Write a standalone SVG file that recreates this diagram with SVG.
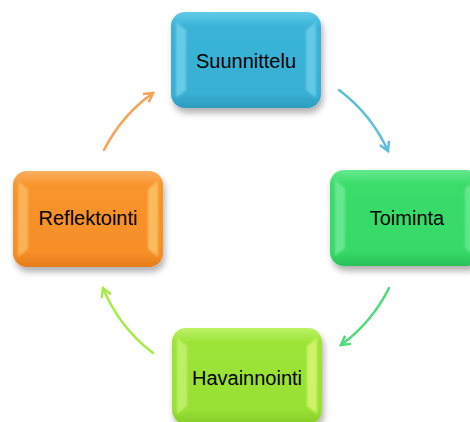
<svg xmlns="http://www.w3.org/2000/svg" width="470" height="422" viewBox="0 0 470 422">
<style>
.lbl{font-family:"Liberation Sans",Arial,sans-serif;font-size:20px;fill:#000;text-anchor:middle}
.arc{fill:none;stroke-width:2.5;stroke-linecap:round}
.bev{filter:url(#bl)}
</style>
<defs>
<filter id="sh" x="-20%" y="-20%" width="140%" height="150%">
<feDropShadow dx="2" dy="5" stdDeviation="3" flood-color="#000" flood-opacity="0.3"/>
</filter>
<filter id="bl" x="-50%" y="-20%" width="200%" height="140%"><feGaussianBlur stdDeviation="1.2"/></filter>
<linearGradient id="gB" x1="0" y1="0" x2="0" y2="1"><stop offset="0" stop-color="#62cbe8"/><stop offset="0.15" stop-color="#3ab3d6"/><stop offset="0.85" stop-color="#37b0d4"/><stop offset="1" stop-color="#2d9cbd"/></linearGradient>
<linearGradient id="gG" x1="0" y1="0" x2="0" y2="1"><stop offset="0" stop-color="#66ea8e"/><stop offset="0.15" stop-color="#3adc6b"/><stop offset="0.85" stop-color="#37d968"/><stop offset="1" stop-color="#2ac058"/></linearGradient>
<linearGradient id="gL" x1="0" y1="0" x2="0" y2="1"><stop offset="0" stop-color="#bcf266"/><stop offset="0.15" stop-color="#9ce438"/><stop offset="0.85" stop-color="#98e134"/><stop offset="1" stop-color="#85cc28"/></linearGradient>
<linearGradient id="gO" x1="0" y1="0" x2="0" y2="1"><stop offset="0" stop-color="#fcb060"/><stop offset="0.15" stop-color="#f7942c"/><stop offset="0.85" stop-color="#f68f28"/><stop offset="1" stop-color="#e57d1a"/></linearGradient>
<marker id="mB" viewBox="0 0 10 10" refX="8" refY="5" markerWidth="5" markerHeight="5" orient="auto" markerUnits="strokeWidth"><path d="M1,1 L8,5 L1,9" fill="none" stroke="#5bbfdc" stroke-width="2"/></marker>
<marker id="mG" viewBox="0 0 10 10" refX="8" refY="5" markerWidth="5" markerHeight="5" orient="auto" markerUnits="strokeWidth"><path d="M1,1 L8,5 L1,9" fill="none" stroke="#4ddb78" stroke-width="2"/></marker>
<marker id="mL" viewBox="0 0 10 10" refX="8" refY="5" markerWidth="5" markerHeight="5" orient="auto" markerUnits="strokeWidth"><path d="M1,1 L8,5 L1,9" fill="none" stroke="#a6ec48" stroke-width="2"/></marker>
<marker id="mO" viewBox="0 0 10 10" refX="8" refY="5" markerWidth="5" markerHeight="5" orient="auto" markerUnits="strokeWidth"><path d="M1,1 L8,5 L1,9" fill="none" stroke="#f9a152" stroke-width="2"/></marker>
</defs>

<g id="connectors">
<path class="arc" stroke="#5bbfdc" marker-end="url(#mB)" d="M339,90 A157,157 0 0 1 388,151"/>
<path class="arc" stroke="#4ddb78" marker-end="url(#mG)" d="M389,288 A157,157 0 0 1 341,345"/>
<path class="arc" stroke="#a6ec48" marker-end="url(#mL)" d="M153,353 A157,157 0 0 1 103,288"/>
<path class="arc" stroke="#f9a152" marker-end="url(#mO)" d="M104,150 A157,157 0 0 1 153,93"/>
</g>

<g id="suunnittelu">
<rect x="171" y="12" width="150" height="96" rx="14" fill="url(#gB)" filter="url(#sh)"/>
<path class="bev" d="M176,22 L186,30 L186,90 L176,98 Z" fill="#8fe0f5" opacity="0.55"/>
<path class="bev" d="M316,22 L306,30 L306,90 L316,98 Z" fill="#8fe0f5" opacity="0.5"/>
<text class="lbl" x="246" y="68">Suunnittelu</text>
</g>

<g id="toiminta">
<rect x="330" y="170" width="150" height="96" rx="14" fill="url(#gG)" filter="url(#sh)"/>
<path class="bev" d="M335,180 L345,188 L345,248 L335,256 Z" fill="#8ff3ae" opacity="0.55"/>
<path class="bev" d="M475,180 L465,188 L465,248 L475,256 Z" fill="#8ff3ae" opacity="0.5"/>
<text class="lbl" x="407" y="225">Toiminta</text>
</g>

<g id="havainnointi">
<rect x="172" y="328" width="150" height="96" rx="14" fill="url(#gL)" filter="url(#sh)"/>
<path class="bev" d="M177,338 L187,346 L187,406 L177,414 Z" fill="#d8f88a" opacity="0.6"/>
<path class="bev" d="M317,338 L307,346 L307,406 L317,414 Z" fill="#eefc88" opacity="0.65"/>
<text class="lbl" x="247" y="385">Havainnointi</text>
</g>

<g id="reflektointi">
<rect x="13" y="171" width="150" height="96" rx="14" fill="url(#gO)" filter="url(#sh)"/>
<path class="bev" d="M18,181 L28,189 L28,249 L18,257 Z" fill="#fdc978" opacity="0.6"/>
<path class="bev" d="M158,181 L148,189 L148,249 L158,257 Z" fill="#fdd17c" opacity="0.65"/>
<text class="lbl" x="88" y="225">Reflektointi</text>
</g>
</svg>
